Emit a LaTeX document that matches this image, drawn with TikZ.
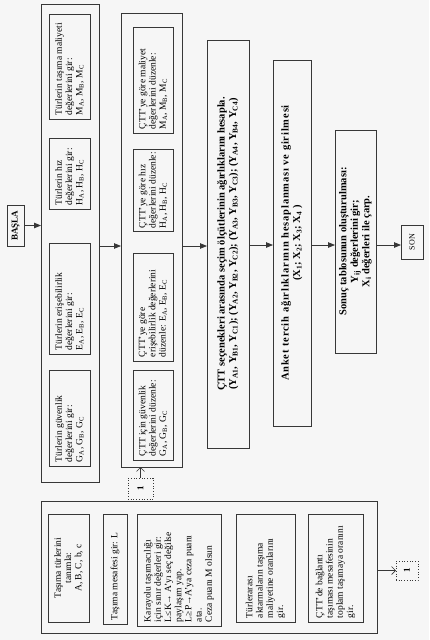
\documentclass[tikz,border=0pt]{standalone}
\usepackage{fontspec}
\setmainfont{Liberation Serif}
\usepackage{graphicx}
\usetikzlibrary{arrows.meta}
\definecolor{lc}{RGB}{55,55,55}
\definecolor{bg}{RGB}{246,246,246}
\newcommand{\rtl}[2]{\rotatebox{90}{\parbox{#1}{\fontsize{9.5}{10.2}\selectfont\raggedright #2}}}
\newcommand{\rtc}[2]{\rotatebox{90}{\parbox{#1}{\fontsize{9.5}{10.2}\selectfont\centering #2}}}
\newcommand{\rtb}[1]{\rotatebox{90}{\fontsize{10.5}{11.5}\selectfont\bfseries\begin{tabular}{@{}c@{}}#1\end{tabular}}}
\newcommand{\sub}[1]{\textsubscript{#1}}
\begin{document}
\begin{tikzpicture}[x=1pt,y=-1pt,
  bx/.style={draw=lc, line width=0.8pt, inner sep=0pt, outer sep=0pt},
  flow/.style={draw=lc, line width=0.8pt, -{Triangle[length=7pt,width=5.5pt]}},
  link/.style={draw=lc, line width=0.7pt, -{Straight Barb[length=4pt,width=8pt]}},
  conn/.style={draw=lc, dotted, line width=0.7pt, inner sep=0pt, outer sep=0pt}]
\fill[bg] (0,0) rectangle (429,640);
\useasboundingbox (0,0) rectangle (429,640);
% start
\node[bx, minimum width=17pt, minimum height=41pt] (start) at (15.5,225.5)
  {\rotatebox{90}{\fontsize{9}{10}\selectfont\bfseries BAŞLA}};
% box 1
\node[bx, minimum width=58pt, minimum height=478pt] (b1) at (70,243) {};
\node[bx, minimum width=41pt, minimum height=105pt] (m1) at (69.5,66.5)
  {\rtl{97pt}{Türlerin taşıma maliyeti\\ değerlerini gir:\\ M\sub{A}, M\sub{B}, M\sub{C}}};
\node[bx, minimum width=41pt, minimum height=71pt] (h1) at (69.5,173.5)
  {\rtl{63pt}{Türlerin hız\\ değerlerini gir:\\ H\sub{A}, H\sub{B}, H\sub{C}}};
\node[bx, minimum width=41pt, minimum height=111pt] (e1) at (69.5,298.5)
  {\rtl{103pt}{Türlerin erişebilirlik\\ değerlerini gir:\\ E\sub{A}, E\sub{B}, E\sub{C}}};
\node[bx, minimum width=41pt, minimum height=96pt] (g1) at (69.5,418)
  {\rtl{88pt}{Türlerin güvenlik\\ değerlerini gir:\\ G\sub{A}, G\sub{B}, G\sub{C}}};
% box 2
\node[bx, minimum width=61pt, minimum height=454pt] (b2) at (151.5,240) {};
\node[bx, minimum width=40pt, minimum height=106pt] (m2) at (153,80)
  {\rtl{98pt}{ÇTT'ye göre maliyet\\ değerlerini düzenle:\\ M\sub{A}, M\sub{B}, M\sub{C}}};
\node[bx, minimum width=40pt, minimum height=82pt] (h2) at (153,190)
  {\rtl{76pt}{ÇTT'ye göre hız\\ değerlerini düzenle:\\ H\sub{A}, H\sub{B}, H\sub{C}}};
\node[bx, minimum width=40pt, minimum height=108pt] (e2) at (153,307)
  {\rtl{100pt}{ÇTT'ye göre\\ erişebilirlik değerlerini\\ düzenle: E\sub{A}, E\sub{B}, E\sub{C}}};
\node[bx, minimum width=40pt, minimum height=90pt] (g2) at (153,415)
  {\rtl{82pt}{ÇTT için güvenlik\\ değerlerini düzenle:\\ G\sub{A}, G\sub{B}, G\sub{C}}};
% box 4
\node[bx, minimum width=42pt, minimum height=408pt] (b4) at (228,244)
  {\rtb{ÇTT seçenekleri arasında seçim ölçütlerinin ağırlıklarını hesapla.\\
   (Y\sub{A1}, Y\sub{B1}, Y\sub{C1}); (Y\sub{A2}, Y\sub{B2}, Y\sub{C2}); (Y\sub{A3}, Y\sub{B3}, Y\sub{C3}); (Y\sub{A4}, Y\sub{B4}, Y\sub{C4})}};
% box 5
\node[bx, minimum width=38pt, minimum height=366pt] (b5) at (292,243)
  {\rtb{\addfontfeatures{LetterSpace=8}Anket tercih ağırlıklarının hesaplanması ve girilmesi\\
   (X\sub{1}; X\sub{2}; X\sub{3}; X\sub{4} )}};
% box 6
\node[bx, minimum width=41pt, minimum height=223pt] (b6) at (355.5,241.5)
  {\rtb{Sonuç tablosunun oluşturulması:\\ Y\sub{ij} değerlerini gir;\\ X\sub{i} değerleri ile çarp.}};
% end
\node[bx, minimum width=22pt, minimum height=34pt] (son) at (412,242)
  {\rotatebox{90}{\fontsize{8}{9}\selectfont SON}};
% box 3
\node[bx, minimum width=336pt, minimum height=132pt] (b3) at (209,567) {};
\node[bx, minimum width=41pt, minimum height=108pt] (t3) at (68.5,568)
  {\rtc{100pt}{Taşıma türlerini\\ tanımla:\\ A, B, C, b, c}};
\node[bx, minimum width=24pt, minimum height=110pt] (l3) at (115,569)
  {\rtl{102pt}{Taşıma mesafesi gir: L}};
\node[bx, minimum width=84pt, minimum height=112pt] (k3) at (179,570)
  {\rtl{104pt}{Karayolu taşımacılığı\\ için sınır değerleri gir:\\ L≤K→ A'yı seç değilse\\ paylaşım yap.\\ L≥P→A'ya ceza puanı\\ ata.\\ Ceza puanı M olsun}};
\node[bx, minimum width=59pt, minimum height=108pt] (r3) at (265.5,568)
  {\rtl{100pt}{Türlerarası\\ aktarmaların taşıma\\ maliyetine oranlarını\\ gir.}};
\node[bx, minimum width=55pt, minimum height=108pt] (c3) at (335.5,568)
  {\rtl{100pt}{ÇTT'de bağlantı\\ taşıması mesafesinin\\ toplam taşımaya oranını\\ gir.}};
% connectors
\node[conn, minimum width=25pt, minimum height=21pt] (k1) at (140.5,488.5)
  {\rotatebox{90}{\fontsize{9}{10}\selectfont\bfseries 1}};
\node[conn, minimum width=22pt, minimum height=19pt] (k2) at (407,570.5)
  {\rotatebox{90}{\fontsize{9}{10}\selectfont\bfseries 1}};
% flow arrows
\draw[flow] (start.east) -- (b1.west |- start.east);
\draw[flow] (b1.east |- 0,246) -- (b2.west |- 0,246);
\draw[flow] (b2.east |- 0,246) -- (b4.west |- 0,246);
\draw[flow] (b4.east |- 0,245) -- (b5.west |- 0,245);
\draw[flow] (b5.east |- 0,245) -- (b6.west |- 0,245);
\draw[flow] (b6.east |- 0,245) -- (son.west |- 0,245);
\draw[link] (k1.north) -- (b2.south -| k1.north);
\draw[link] (b3.east |- k2.west) -- (k2.west);
\end{tikzpicture}
\end{document}
